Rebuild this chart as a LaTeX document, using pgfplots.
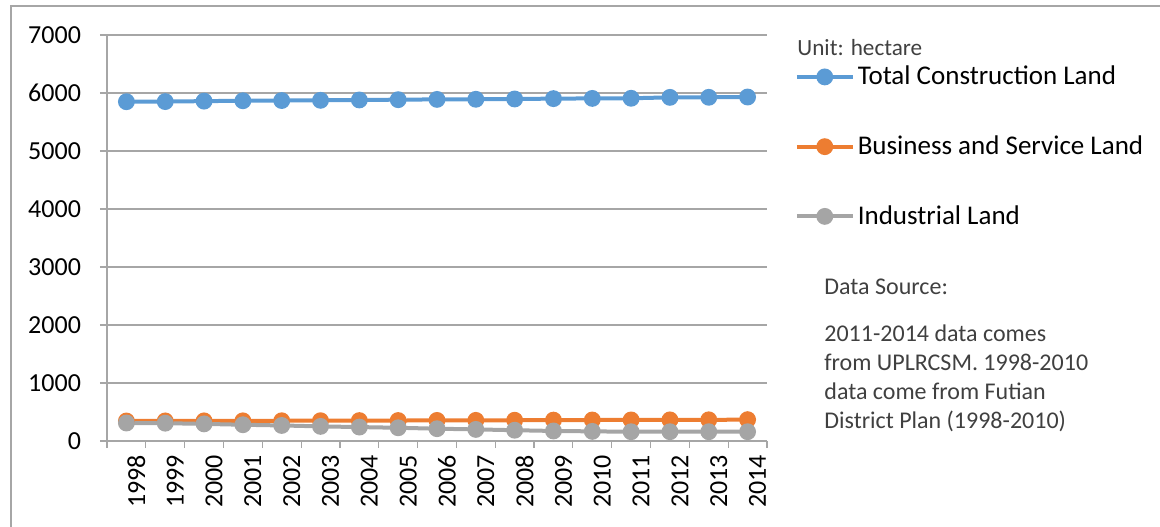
\documentclass[border=0pt]{standalone}
\usepackage{pgfplots}
\pgfplotsset{compat=1.18}
\usepackage{fontspec}
\setmainfont{Carlito}
\definecolor{cblue}{HTML}{5B9BD5}
\definecolor{corange}{HTML}{ED7D31}
\definecolor{cgray}{HTML}{A5A5A5}
\definecolor{gridc}{HTML}{A6A6A6}
\definecolor{txt}{HTML}{404040}
\begin{document}
\begin{tikzpicture}
\useasboundingbox (-53.5bp,-43bp) rectangle (526.5bp,220.5bp);
\begin{axis}[
  at={(0,0)}, anchor=south west,
  scale only axis,
  width=330bp, height=203bp,
  xmin=-0.5, xmax=16.5,
  ymin=0, ymax=7000,
  ytick={0,1000,...,7000},
  xtick={0,...,16},
  xticklabels={1998,1999,2000,2001,2002,2003,2004,2005,2006,2007,2008,2009,2010,2011,2012,2013,2014},
  minor xtick={-0.5,0.5,...,16.5},
  axis x line*=bottom, axis y line*=left,
  axis line style={gridc, line width=0.6bp, -},
  tick align=outside,
  major tick length=3.5bp,
  minor tick length=3.5bp,
  xtick style={draw=none},
  minor x tick style={draw=gridc, line width=0.6bp},
  ytick style={draw=gridc, line width=0.6bp},
  ymajorgrids,
  grid style={gridc, line width=0.6bp},
  /pgf/number format/assume math mode=true,
  /pgf/number format/set thousands separator={},
  tick label style={font=\fontsize{13bp}{15bp}\selectfont, text=black},
  yticklabel style={anchor=east, xshift=-6bp},
  xticklabel style={rotate=90, anchor=east, yshift=-5bp},
  clip=false,
  legend style={at={(axis description cs:1.0415,0.725)}, anchor=west, draw=none, fill=none,
    font=\fontsize{13.5bp}{15bp}\selectfont, row sep=21bp, inner sep=0pt,
    nodes={inner sep=1.5bp}},
  legend cell align=left,
  legend image code/.code={\draw[mark repeat=2,mark phase=2,#1] plot coordinates {(0bp,0bp) (14bp,0bp) (28bp,0bp)};},
  every axis plot/.append style={line width=2bp, mark=*, mark size=3.2bp, mark options={solid}},
]
\addplot[cblue, mark options={fill=cblue, draw=cblue}] coordinates {
(0,5850) (1,5852) (2,5860) (3,5866) (4,5870) (5,5874) (6,5880) (7,5885) (8,5890)
(9,5892) (10,5897) (11,5903) (12,5907) (13,5909) (14,5925) (15,5926) (16,5931)};
\addlegendentry{Total Construction Land}
\addplot[corange, mark options={fill=corange, draw=corange}] coordinates {
(0,345) (1,346) (2,347) (3,348) (4,349) (5,350) (6,352) (7,353) (8,355)
(9,356) (10,358) (11,360) (12,362) (13,363) (14,364) (15,365) (16,368)};
\addlegendentry{Business and Service Land}
\addplot[cgray, mark options={fill=cgray, draw=cgray}] coordinates {
(0,310) (1,307) (2,295) (3,280) (4,268) (5,252) (6,240) (7,228) (8,212)
(9,200) (10,186) (11,173) (12,166) (13,160) (14,160) (15,160) (16,160)};
\addlegendentry{Industrial Land}
\end{axis}
\node[anchor=west, inner sep=0pt, text=txt, font=\fontsize{11.6bp}{14bp}\selectfont] at (345bp,196.5bp) {Unit: hectare};
\node[anchor=west, inner sep=0pt, text=txt, font=\fontsize{12bp}{14.5bp}\selectfont] at (358.5bp,77bp) {Data Source:};
\node[anchor=north west, inner sep=0pt, text=txt, align=left, font=\fontsize{12bp}{14.5bp}\selectfont] at (358.5bp,58.5bp) {2011-2014 data comes\\from UPLRCSM. 1998-2010\\data come from Futian\\District Plan (1998-2010)};
\draw[gridc, line width=0.75bp] (-48bp,-50bp) -- (-48bp,217.5bp) -- (530bp,217.5bp);
\end{tikzpicture}
\end{document}
